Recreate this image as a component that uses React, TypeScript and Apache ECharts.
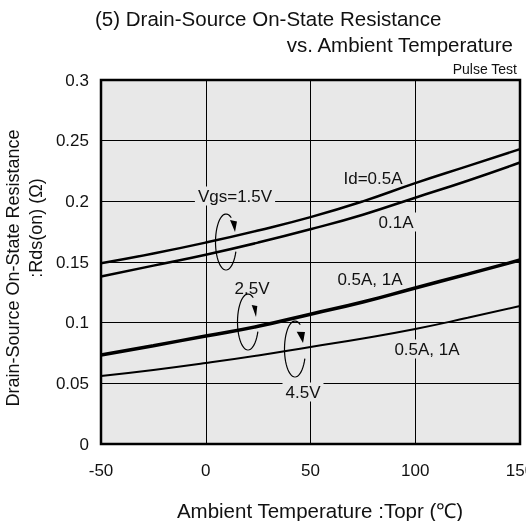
import React, { useEffect, useRef } from "react";
import * as echarts from "echarts";

const temps = [-50, -25, 0, 25, 50, 75, 100, 125, 150];
const vgs15Id05 = [0.149, 0.157, 0.166, 0.176, 0.187, 0.2, 0.215, 0.229, 0.243];
const vgs15Id01 = [0.138, 0.147, 0.156, 0.166, 0.177, 0.189, 0.203, 0.217, 0.232];
const vgs25 = [0.0733, 0.081, 0.089, 0.097, 0.107, 0.117, 0.1286, 0.14, 0.1516];
const vgs45 = [0.056, 0.061, 0.0667, 0.073, 0.08, 0.087, 0.0948, 0.104, 0.1137];

const FONT = "Liberation Sans, Arial, sans-serif";
const BG = "#e8e8e8";

function ellipseArc(cx: number, cy: number, rx: number, ry: number, a0: number, a1: number) {
  const pts: number[][] = [];
  const n = 40;
  for (let i = 0; i <= n; i++) {
    const t = ((a0 + ((a1 - a0) * i) / n) * Math.PI) / 180;
    pts.push([cx + rx * Math.cos(t), cy + ry * Math.sin(t)]);
  }
  return pts;
}

export default function App() {
  const ref = useRef<HTMLDivElement>(null);
  useEffect(() => {
    document.body.style.margin = "0";
    const chart = echarts.init(ref.current!, null, { renderer: "svg" });
    const mk = (vals: number[], w: number) => ({
      type: "line",
      data: temps.map((t, i) => [t, vals[i]]),
      smooth: true,
      symbol: "none",
      lineStyle: { color: "#000", width: w },
      z: 3,
    });
    const label = (text: string, x: number, y: number, size = 17, align = "center", bg = true) => ({
      type: "text",
      x,
      y,
      z: 10,
      style: {
        text,
        font: `${size}px ${FONT}`,
        fill: "#111",
        align,
        verticalAlign: "middle",
        backgroundColor: bg ? BG : undefined,
        padding: bg ? [1, 3] : 0,
      },
    });
    const arc = (cx: number, cy: number, tri: number[][]) => [
      {
        type: "polyline",
        z: 10,
        shape: { points: ellipseArc(cx, cy, 10.5, 28, 20, 300) },
        style: { stroke: "#000", lineWidth: 1.2, fill: null },
      },
      { type: "polygon", z: 10, shape: { points: tri }, style: { fill: "#000" } },
    ];
    chart.setOption({
      animation: false,
      grid: {
        left: 101,
        right: 6,
        top: 80,
        bottom: 77,
        containLabel: false,
        outerBoundsMode: "none",
        show: true,
        backgroundColor: BG,
        borderColor: "#000",
        borderWidth: 2.5,
      },
      xAxis: {
        type: "value",
        min: -50,
        max: 150,
        interval: 50,
        axisLine: { show: false },
        axisTick: { show: false },
        splitLine: { lineStyle: { color: "#000", width: 1 } },
        axisLabel: { color: "#111", fontSize: 17, fontFamily: FONT, margin: 18, alignMaxLabel: "center", alignMinLabel: "center" },
      },
      yAxis: {
        type: "value",
        min: 0,
        max: 0.3,
        interval: 0.05,
        axisLine: { show: false },
        axisTick: { show: false },
        splitLine: { lineStyle: { color: "#000", width: 1 } },
        axisLabel: { color: "#111", fontSize: 17, fontFamily: FONT, margin: 12 },
      },
      series: [mk(vgs15Id05, 2.5), mk(vgs15Id01, 2.5), mk(vgs25, 3.5), mk(vgs45, 2)],
      graphic: [
        label("(5) Drain-Source On-State Resistance", 95, 18, 20.5, "left", false),
        label("vs. Ambient Temperature", 513, 44, 20.5, "right", false),
        label("Pulse Test", 517, 69, 14, "right", false),
        label("Ambient Temperature :Topr (℃)", 320, 510, 20.5, "center", false),
        {
          type: "text",
          x: 13,
          y: 268,
          rotation: Math.PI / 2,
          style: { text: "Drain-Source On-State Resistance", font: `18px ${FONT}`, fill: "#111", align: "center", verticalAlign: "middle" },
        },
        {
          type: "text",
          x: 36,
          y: 228,
          rotation: Math.PI / 2,
          style: { text: ":Rds(on) (Ω)", font: `18px ${FONT}`, fill: "#111", align: "center", verticalAlign: "middle" },
        },
        label("Vgs=1.5V", 235, 196),
        label("Id=0.5A", 373, 178, 17, "center", false),
        label("0.1A", 396, 222),
        label("0.5A, 1A", 370, 279),
        label("2.5V", 252, 288),
        label("0.5A, 1A", 427, 349),
        label("4.5V", 303, 392),
        ...arc(226, 242, [[230, 220], [237, 221.5], [235, 232]]),
        ...arc(248, 322, [[251.7, 305], [257.3, 306], [256, 317]]),
        ...arc(295, 349, [[296.7, 331.7], [305, 332], [303, 343]]),
      ],
    });
    return () => chart.dispose();
  }, []);
  return <div ref={ref} style={{ position: "fixed", left: 0, top: 0, width: 526, height: 521 }} />;
}
